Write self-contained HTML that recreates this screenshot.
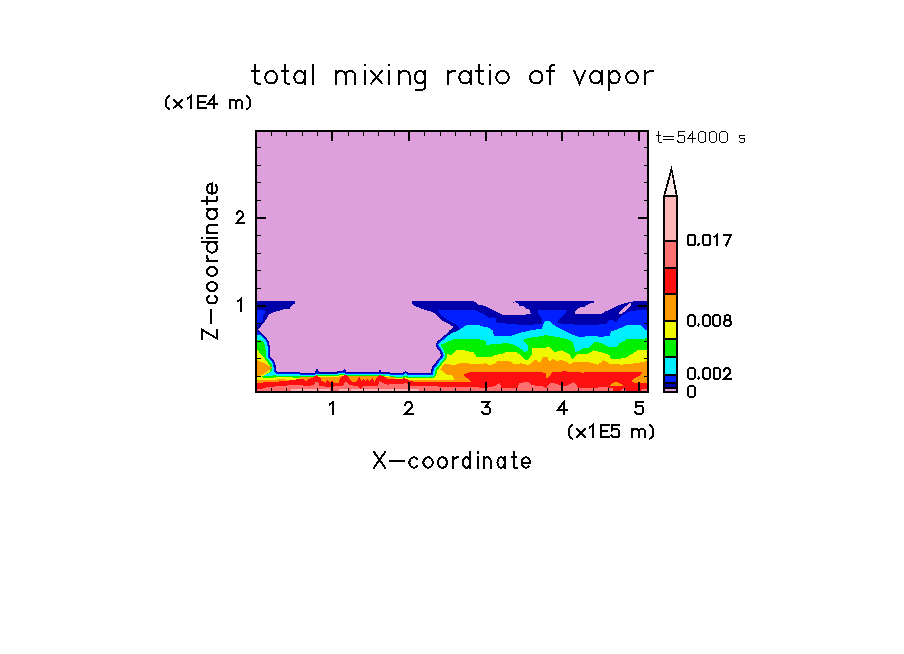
<!DOCTYPE html>
<html><head><meta charset="utf-8"><style>
html,body{margin:0;padding:0;background:#fff;font-family:"Liberation Sans",sans-serif;}
svg{display:block;}
</style></head><body>
<svg width="904" height="654" viewBox="0 0 904 654">
<rect width="904" height="654" fill="#fff"/>
<rect x="257" y="132" width="390" height="259" fill="#DDA0DD"/>
<g shape-rendering="crispEdges">
<path fill="#0000AA" d="M647.0 391.0 L647.0 301.0 L633.6 301.0 L632.1 301.8 L625.2 303.1 L618.5 305.4 L610.9 309.1 L604.8 311.8 L601.7 313.7 L574.9 313.7 L574.9 311.4 L577.2 309.1 L580.3 307.2 L584.1 307.2 L587.2 304.9 L591.0 303.0 L594.0 302.6 L594.0 301.0 L515.4 301.0 L515.4 302.3 L518.4 303.4 L519.2 306.1 L523.8 306.5 L526.1 308.4 L529.5 309.9 L529.9 313.0 L531.8 313.3 L526.1 314.5 L501.6 314.5 L497.8 312.2 L493.2 309.9 L489.4 308.0 L485.6 306.5 L481.8 304.9 L477.9 305.3 L477.2 303.4 L473.7 301.0 L412.2 301.0 L412.2 303.4 L414.5 305.7 L419.1 307.6 L424.5 309.9 L430.6 311.4 L434.4 313.3 L438.2 317.2 L441.3 320.2 L445.9 322.5 L450.5 324.8 L453.5 327.1 L448.9 330.9 L447.8 332.8 L443.1 336.6 L437.4 341.4 L435.5 344.2 L436.4 347.1 L439.3 350.9 L441.0 355.8 L437.8 359.6 L434.5 364.1 L432.1 366.7 L431.7 367.9 L430.8 371.8 L430.8 372.7 L408.0 372.7 L405.6 371.0 L403.0 372.7 L395.0 372.7 L381.7 372.2 L381.0 371.2 L379.8 369.5 L379.2 371.5 L378.0 371.6 L346.2 371.6 L345.0 368.8 L343.5 370.5 L342.8 371.0 L336.7 371.5 L336.7 372.2 L319.0 372.2 L317.1 368.2 L315.0 372.5 L300.0 372.5 L278.0 372.2 L276.0 370.3 L275.3 362.6 L269.9 355.8 L270.4 350.0 L270.1 347.5 L268.8 342.0 L266.9 338.3 L263.3 334.7 L259.6 331.5 L258.2 329.6 L261.4 325.5 L264.2 322.5 L266.5 318.7 L268.8 314.9 L272.6 312.6 L278.0 311.0 L283.3 309.5 L287.9 308.8 L289.8 308.8 L291.0 306.0 L293.2 304.0 L295.1 303.4 L295.1 301.0 L257.0 301.0 L257.0 391.0Z"/>
<path fill="#0020FF" d="M259.6 324.0 L262.6 321.0 L263.4 315.0 L265.3 313.5 L265.3 310.0 L257.0 310.0 L257.0 325.6Z"/>
<path fill="#0020FF" d="M638.2 310.3 L630.6 311.1 L625.2 313.3 L619.1 317.9 L616.1 322.1 L611.5 319.5 L609.2 319.5 L606.3 324.0 L588.0 325.2 L563.5 324.0 L557.4 322.5 L558.2 320.2 L560.5 317.9 L562.8 315.3 L566.2 313.0 L566.6 310.3 L537.5 310.3 L539.1 314.9 L542.1 318.7 L541.7 322.1 L541.7 323.7 L535.2 324.4 L525.3 325.2 L516.1 324.4 L515.0 323.7 L496.7 323.3 L495.5 318.0 L493.2 317.2 L489.4 318.3 L487.1 316.4 L483.3 313.7 L477.9 311.4 L474.1 309.9 L437.8 309.9 L437.8 310.3 L441.3 315.6 L445.9 318.7 L452.0 322.5 L456.6 324.8 L458.9 327.9 L458.4 331.5 L452.0 333.5 L445.0 337.0 L442.6 338.7 L438.4 342.3 L436.9 344.4 L437.6 346.5 L440.3 350.1 L440.4 350.2 L440.5 350.3 L440.5 350.5 L442.2 355.4 L442.3 355.5 L442.3 355.6 L442.3 355.7 L442.3 355.9 L442.3 356.0 L442.3 356.1 L442.2 356.2 L442.2 356.3 L442.1 356.4 L442.1 356.5 L442.0 356.6 L438.8 360.4 L435.5 364.9 L435.5 365.0 L433.2 367.4 L433.0 368.3 L432.1 371.9 L432.1 372.7 L432.1 372.8 L432.1 373.0 L432.0 373.1 L432.0 373.2 L432.0 373.2 L432.0 373.4 L432.0 373.5 L431.9 373.6 L431.8 373.7 L431.7 373.8 L431.6 373.9 L431.5 373.9 L431.3 374.0 L431.2 374.0 L431.1 374.1 L430.9 374.1 L430.8 374.1 L408.0 374.1 L407.9 374.1 L407.7 374.1 L407.6 374.0 L407.4 374.0 L407.3 373.9 L407.2 373.8 L405.6 372.7 L403.8 373.9 L403.6 373.9 L403.5 374.0 L403.4 374.0 L403.3 374.1 L403.1 374.1 L403.0 374.1 L395.0 374.1 L395.0 374.0 L395.0 374.0 L381.7 373.5 L381.5 373.5 L381.4 373.5 L381.3 373.4 L381.1 373.4 L381.0 373.3 L380.9 373.2 L380.8 373.1 L380.7 373.1 L380.6 372.9 L380.2 372.3 L380.2 372.3 L380.1 372.4 L380.0 372.5 L379.9 372.6 L379.8 372.7 L379.7 372.7 L379.6 372.7 L379.4 372.8 L379.3 372.8 L378.1 372.9 L378.0 372.9 L346.2 372.9 L346.1 372.9 L345.9 372.9 L345.8 372.8 L345.7 372.8 L345.6 372.7 L345.5 372.7 L345.4 372.6 L345.3 372.5 L345.2 372.4 L345.1 372.3 L345.1 372.2 L345.0 372.1 L344.6 371.2 L344.5 371.4 L344.4 371.5 L344.3 371.6 L343.6 372.1 L343.4 372.1 L343.3 372.2 L343.2 372.2 L343.0 372.3 L342.9 372.3 L337.9 372.7 L337.8 372.8 L337.8 372.9 L337.7 373.0 L337.6 373.1 L337.5 373.2 L337.4 373.3 L337.3 373.3 L337.2 373.4 L337.1 373.4 L337.0 373.5 L336.8 373.5 L336.7 373.5 L319.0 373.5 L318.9 373.5 L318.7 373.5 L318.6 373.4 L318.5 373.4 L318.4 373.3 L318.3 373.3 L318.1 373.2 L318.0 373.1 L318.0 373.0 L317.9 372.9 L317.8 372.8 L317.1 371.2 L316.2 373.1 L316.1 373.2 L316.0 373.3 L315.9 373.4 L315.8 373.5 L315.7 373.6 L315.6 373.6 L315.5 373.7 L315.4 373.7 L315.3 373.8 L315.1 373.8 L315.0 373.8 L300.0 373.8 L300.0 373.5 L300.0 373.5 L278.0 373.2 L277.9 373.2 L277.8 373.2 L277.7 373.2 L277.6 373.1 L277.5 373.1 L277.5 373.0 L277.4 373.0 L277.3 372.9 L276.0 371.7 L276.0 372.1 L275.1 371.2 L275.0 371.1 L274.9 371.0 L274.9 370.9 L274.8 370.8 L274.8 370.7 L274.7 370.6 L274.7 370.4 L274.0 363.1 L268.9 356.6 L268.8 356.5 L268.7 356.4 L268.7 356.3 L268.7 356.2 L268.6 356.1 L268.6 355.9 L268.6 355.8 L268.6 355.7 L269.1 350.0 L268.8 347.7 L267.6 342.5 L265.8 339.1 L262.4 335.7 L258.7 332.5 L258.6 332.4 L258.6 332.3 L258.5 332.2 L257.0 331.9 L257.0 391.0 L647.0 391.0 L647.0 310.0Z"/>
<path fill="#00EEFF" d="M645.9 330.2 L640.5 325.2 L626.8 325.2 L622.9 327.1 L615.3 330.2 L611.6 330.9 L609.3 336.3 L599.4 336.7 L589.5 335.5 L580.3 337.4 L572.6 334.8 L565.0 331.0 L559.7 328.6 L552.8 324.4 L549.8 321.4 L545.2 321.0 L543.6 323.3 L542.1 328.6 L531.4 330.2 L521.5 332.5 L514.6 334.8 L510.0 336.3 L494.0 335.5 L492.5 330.2 L487.9 327.1 L481.8 326.3 L478.7 325.2 L467.2 325.2 L464.2 326.3 L460.0 329.4 L453.5 332.5 L449.7 334.4 L449.7 334.4 L449.5 334.6 L449.4 334.7 L444.7 338.5 L439.3 343.1 L438.2 344.6 L438.7 345.9 L441.3 349.4 L441.4 349.6 L441.6 349.8 L441.7 350.1 L443.4 355.0 L443.4 355.2 L443.5 355.4 L443.5 355.7 L443.5 355.9 L443.5 356.1 L443.4 356.4 L443.4 356.6 L443.3 356.8 L443.2 357.0 L443.1 357.2 L442.9 357.4 L439.8 361.1 L436.5 365.6 L436.3 365.8 L434.3 368.0 L434.1 368.6 L433.3 372.1 L433.3 372.7 L433.3 372.9 L433.3 373.2 L433.2 373.4 L433.1 373.7 L433.0 373.9 L432.9 374.1 L432.7 374.3 L432.6 374.5 L432.4 374.6 L432.2 374.8 L432.0 374.9 L432.0 374.2 L431.9 374.3 L431.7 374.4 L431.5 374.5 L431.4 374.5 L431.2 374.6 L431.0 374.6 L430.8 374.6 L408.0 374.6 L407.8 374.6 L407.6 374.6 L407.4 374.5 L407.2 374.4 L407.1 374.4 L406.9 374.3 L405.6 373.3 L404.0 374.3 L403.9 374.4 L403.7 374.5 L403.5 374.5 L403.4 374.6 L403.2 374.6 L403.0 374.6 L395.0 374.6 L395.0 374.7 L394.9 374.7 L381.6 374.2 L381.4 374.2 L381.2 374.1 L381.0 374.1 L380.8 374.0 L380.7 373.9 L380.5 373.8 L380.3 373.7 L380.2 373.5 L380.1 373.3 L380.0 373.3 L379.9 373.4 L379.8 373.4 L379.6 373.5 L379.4 373.5 L378.2 373.6 L378.0 373.6 L346.2 373.6 L346.0 373.6 L345.8 373.6 L345.6 373.5 L345.4 373.5 L345.3 373.4 L345.1 373.3 L344.9 373.2 L344.8 373.0 L344.7 372.9 L344.5 372.7 L344.4 372.6 L344.4 372.4 L344.3 372.4 L344.0 372.6 L343.8 372.7 L343.6 372.8 L343.4 372.9 L343.2 373.0 L343.0 373.0 L338.3 373.4 L338.2 373.5 L338.1 373.6 L338.0 373.7 L337.8 373.9 L337.6 374.0 L337.5 374.0 L337.3 374.1 L337.1 374.2 L336.9 374.2 L336.7 374.2 L319.0 374.2 L318.8 374.2 L318.6 374.2 L318.4 374.1 L318.2 374.0 L318.0 373.9 L317.8 373.8 L317.7 373.7 L317.5 373.6 L317.4 373.4 L317.3 373.2 L317.2 373.1 L317.1 372.8 L316.8 373.4 L316.7 373.6 L316.6 373.7 L316.5 373.9 L316.3 374.0 L316.1 374.1 L316.0 374.2 L315.8 374.3 L315.6 374.4 L315.4 374.5 L315.2 374.5 L315.0 374.5 L300.0 374.5 L300.0 374.5 L278.0 374.2 L277.8 374.2 L277.6 374.2 L277.4 374.1 L277.2 374.1 L277.1 374.0 L276.9 373.9 L276.8 373.8 L276.6 373.6 L276.0 373.1 L276.0 373.3 L274.5 371.9 L274.3 371.7 L274.2 371.6 L274.1 371.4 L274.0 371.2 L273.9 370.9 L273.8 370.7 L273.8 370.5 L273.2 363.5 L268.2 357.2 L268.1 357.0 L268.0 356.8 L267.9 356.6 L267.8 356.4 L267.7 356.2 L267.7 356.0 L267.7 355.8 L267.7 355.6 L268.2 350.0 L267.9 347.9 L266.7 342.8 L265.1 339.6 L261.8 336.3 L260.2 335.0 L257.0 334.5 L257.0 391.0 L647.0 391.0 L647.0 330.3Z"/>
<path fill="#00F000" d="M626.8 339.3 L624.2 340.8 L619.5 343.2 L617.1 347.2 L610.0 347.2 L606.0 345.6 L601.7 343.2 L598.0 342.4 L593.7 342.4 L588.2 347.9 L584.2 347.6 L580.2 350.3 L574.6 352.7 L574.6 347.9 L572.6 342.4 L569.9 340.0 L565.0 338.6 L559.7 337.4 L552.8 336.3 L545.2 335.1 L540.6 336.3 L529.1 337.8 L522.8 340.0 L528.4 345.6 L528.4 351.1 L524.4 351.9 L518.8 347.2 L511.6 344.0 L506.9 343.2 L495.0 344.0 L490.0 344.5 L485.6 345.0 L485.6 340.9 L477.9 339.0 L474.9 339.3 L462.6 338.6 L455.0 338.6 L449.7 340.9 L442.8 343.9 L440.4 344.6 L440.2 344.9 L440.3 345.1 L442.7 348.3 L443.0 348.7 L443.2 349.1 L443.4 349.5 L445.1 354.4 L445.2 354.8 L445.3 355.2 L445.3 355.6 L445.3 356.0 L445.3 356.4 L445.2 356.8 L445.1 357.2 L444.9 357.5 L444.7 357.9 L444.5 358.2 L444.3 358.6 L441.2 362.3 L438.0 366.6 L437.7 367.0 L435.9 368.9 L435.8 369.1 L435.1 372.3 L435.1 372.7 L435.1 373.1 L435.0 373.5 L434.9 373.9 L434.8 374.3 L434.6 374.7 L434.4 375.1 L434.1 375.4 L433.8 375.7 L433.5 376.0 L433.2 376.3 L432.8 376.5 L432.4 376.7 L432.0 376.8 L432.0 376.8 L432.0 376.3 L431.9 376.3 L431.5 376.4 L431.2 376.5 L430.8 376.5 L408.0 376.5 L407.6 376.5 L407.2 376.4 L406.8 376.3 L406.5 376.2 L406.1 376.0 L405.8 375.8 L405.5 375.6 L405.1 375.9 L404.8 376.1 L404.4 376.2 L404.1 376.3 L403.7 376.4 L403.4 376.5 L403.0 376.5 L395.0 376.5 L395.0 375.9 L394.9 375.9 L381.6 375.4 L381.3 375.4 L380.9 375.3 L380.6 375.2 L380.3 375.1 L380.0 374.9 L379.8 374.7 L379.7 374.7 L379.5 374.7 L378.3 374.8 L378.0 374.8 L346.2 374.8 L345.9 374.8 L345.6 374.7 L345.3 374.7 L345.0 374.6 L344.7 374.4 L344.4 374.3 L344.2 374.1 L344.0 374.0 L343.7 374.1 L343.4 374.1 L343.1 374.2 L338.9 374.5 L338.7 374.7 L338.5 374.9 L338.2 375.0 L337.9 375.2 L337.6 375.3 L337.3 375.3 L337.0 375.4 L336.7 375.4 L319.0 375.4 L318.7 375.4 L318.3 375.3 L318.0 375.2 L317.7 375.1 L317.4 375.0 L317.2 374.8 L317.1 374.9 L316.8 375.1 L316.6 375.3 L316.3 375.4 L316.0 375.6 L315.6 375.6 L315.3 375.7 L315.0 375.7 L300.0 375.7 L300.0 376.3 L299.9 376.3 L277.9 376.0 L277.6 376.0 L277.2 375.9 L276.9 375.8 L276.6 375.7 L276.2 375.6 L276.0 375.4 L276.0 375.5 L275.9 375.5 L275.6 375.3 L275.6 375.2 L268.0 376.1 L261.6 376.2 L264.0 375.5 L266.6 374.2 L269.0 373.2 L272.0 371.0 L272.1 370.7 L272.1 370.7 L271.5 364.1 L266.8 358.2 L266.6 357.9 L266.4 357.6 L266.3 357.3 L266.2 356.9 L266.1 356.6 L266.0 356.2 L266.0 355.8 L266.0 355.5 L266.3 352.4 L265.6 350.0 L264.9 344.3 L263.3 342.0 L260.5 340.2 L257.0 339.6 L257.0 391.0 L647.0 391.0 L647.0 338.4Z"/>
<path fill="#F0F800" d="M637.7 350.3 L631.4 354.3 L625.8 357.5 L617.9 359.1 L610.7 359.1 L609.9 355.1 L602.8 352.7 L598.0 351.5 L593.7 350.3 L588.2 353.5 L583.4 353.5 L577.8 353.9 L572.3 359.5 L569.9 354.7 L561.9 350.3 L554.8 351.9 L550.0 347.4 L532.4 347.9 L532.4 354.3 L526.8 360.7 L520.4 355.1 L515.7 351.5 L506.9 351.5 L503.0 353.5 L495.0 355.1 L491.7 356.7 L484.5 357.1 L476.6 356.7 L473.4 351.9 L468.6 351.5 L463.8 350.3 L455.9 350.3 L451.1 355.5 L446.4 353.1 L446.7 353.8 L446.8 354.4 L446.9 354.9 L447.0 355.5 L447.0 356.1 L446.9 356.6 L446.8 357.2 L446.7 357.7 L446.5 358.2 L446.2 358.7 L445.9 359.2 L445.6 359.7 L442.5 363.3 L439.3 367.6 L438.9 368.2 L437.4 369.8 L436.8 372.5 L436.8 372.7 L436.8 373.3 L436.7 373.9 L436.5 374.4 L436.3 375.0 L436.1 375.5 L435.8 376.0 L435.4 376.5 L435.0 376.9 L434.6 377.3 L434.1 377.7 L433.6 378.0 L433.1 378.2 L432.5 378.4 L432.0 378.6 L432.0 377.9 L431.8 377.9 L431.3 378.0 L430.8 378.0 L408.0 378.0 L407.5 378.0 L406.9 377.9 L406.4 377.8 L405.9 377.6 L405.5 377.4 L405.5 377.4 L405.0 377.6 L404.5 377.8 L404.0 377.9 L403.5 378.0 L403.0 378.0 L395.0 378.0 L395.0 376.7 L394.8 376.7 L381.5 376.2 L381.1 376.2 L380.7 376.1 L380.3 376.0 L380.0 375.8 L379.6 375.6 L379.4 375.5 L378.3 375.6 L378.0 375.6 L346.2 375.6 L345.8 375.6 L345.4 375.5 L345.1 375.4 L344.7 375.3 L344.3 375.1 L344.0 374.9 L343.9 374.8 L343.6 374.9 L343.1 375.0 L339.2 375.3 L338.9 375.5 L338.6 375.7 L338.2 375.9 L337.9 376.0 L337.5 376.1 L337.1 376.2 L336.7 376.2 L319.0 376.2 L318.6 376.2 L318.2 376.1 L317.8 376.0 L317.4 375.9 L317.3 375.8 L316.9 376.0 L316.6 376.2 L316.2 376.3 L315.8 376.4 L315.4 376.5 L315.0 376.5 L300.0 376.5 L300.0 377.6 L299.9 377.6 L277.9 377.3 L277.5 377.3 L277.0 377.2 L276.5 377.1 L276.1 376.9 L276.0 376.9 L276.0 377.7 L275.8 377.7 L275.3 377.4 L274.8 377.2 L274.6 377.0 L274.0 378.1 L264.0 378.1 L261.6 376.8 L263.0 376.0 L266.0 374.3 L270.0 371.5 L270.2 371.3 L270.1 370.8 L269.6 364.9 L265.3 359.5 L265.0 359.0 L264.7 358.5 L264.4 358.0 L264.4 357.8 L257.0 349.8 L257.0 391.0 L647.0 391.0 L647.0 350.0Z"/>
<path fill="#FF9900" d="M637.7 363.1 L621.8 364.6 L609.9 363.8 L603.6 360.3 L597.7 364.6 L586.6 361.5 L576.2 361.5 L569.9 363.8 L565.9 361.5 L560.3 359.5 L557.2 361.5 L553.2 359.1 L549.1 361.5 L547.5 357.1 L542.7 357.1 L540.3 363.0 L535.5 359.5 L528.4 365.4 L522.0 363.4 L513.3 363.8 L509.3 360.7 L497.4 361.5 L495.6 363.4 L489.3 365.4 L485.3 363.4 L478.2 364.2 L475.0 364.1 L468.6 363.5 L460.3 363.2 L453.9 365.4 L447.5 364.1 L444.3 364.1 L440.1 369.3 L446.2 374.4 L453.2 375.7 L453.9 380.2 L429.0 380.0 L428.9 379.5 L408.0 379.5 L407.3 379.5 L406.6 379.4 L405.9 379.2 L405.5 379.0 L404.9 379.2 L404.3 379.4 L403.7 379.5 L403.0 379.5 L395.0 379.5 L395.0 377.5 L394.8 377.5 L381.5 377.0 L381.0 377.0 L380.5 376.9 L380.1 376.7 L379.6 376.5 L379.2 376.3 L378.4 376.4 L378.0 376.4 L346.2 376.4 L345.7 376.4 L345.3 376.3 L344.8 376.2 L344.4 376.0 L344.0 375.8 L343.7 375.7 L343.7 375.7 L343.2 375.8 L339.5 376.1 L339.4 376.2 L339.0 376.4 L338.5 376.6 L338.1 376.8 L337.6 376.9 L337.2 377.0 L336.7 377.0 L319.0 377.0 L318.5 377.0 L318.0 376.9 L317.5 376.8 L317.3 376.7 L317.3 376.7 L316.9 376.9 L316.4 377.1 L316.0 377.2 L315.5 377.3 L315.0 377.3 L300.0 377.3 L300.0 379.7 L299.9 379.7 L277.9 379.4 L277.3 379.4 L277.0 380.2 L270.5 380.3 L257.0 380.4 L257.0 391.0 L647.0 391.0 L647.0 361.0Z"/>
<path fill="#FF9900" d="M257.2 376.1 L262.2 375.0 L267.7 371.1 L272.2 367.6 L264.0 363.0 L257.0 360.0 L257.0 376.1Z"/>
<path fill="#FF1010" d="M637.7 383.3 L632.2 382.1 L632.2 379.7 L640.9 375.0 L641.7 372.2 L597.7 371.8 L581.8 372.6 L565.9 371.4 L552.2 371.8 L549.8 375.8 L546.7 379.0 L545.9 372.6 L518.8 371.8 L500.0 371.8 L474.2 371.8 L467.8 372.6 L464.2 374.4 L464.2 375.7 L471.2 381.5 L465.0 382.3 L450.0 382.5 L432.0 382.4 L415.0 382.0 L410.0 381.0 L408.0 379.5 L404.2 378.3 L400.0 379.3 L387.8 379.3 L386.6 377.7 L382.9 375.8 L379.2 375.2 L376.8 377.7 L374.3 382.6 L372.5 377.7 L369.4 381.3 L367.6 378.9 L365.8 381.3 L363.3 378.9 L361.5 381.3 L359.7 376.4 L357.2 380.7 L354.2 382.6 L351.1 380.7 L347.4 375.8 L345.0 374.8 L339.7 378.3 L339.1 382.6 L334.2 382.6 L331.8 380.7 L329.3 382.6 L327.5 380.1 L325.7 382.6 L321.4 380.7 L320.2 377.7 L316.5 375.2 L312.2 377.7 L307.9 379.5 L306.1 381.3 L303.7 378.9 L300.0 378.9 L293.7 379.9 L286.0 381.0 L270.5 382.1 L257.0 382.8 L257.0 391.0 L647.0 391.0 L647.0 383.3Z"/>
<path fill="#FF9900" d="M625.0 386.4 L619.0 383.0 L616.0 381.3 L613.0 383.0 L609.0 386.4Z"/>
<path fill="#FF7070" d="M608.0 387.0 L593.7 387.7 L578.6 387.7 L577.0 386.1 L573.8 382.1 L565.9 386.1 L560.3 385.3 L553.0 382.9 L549.1 383.7 L545.9 388.5 L542.7 386.1 L532.4 385.3 L528.4 382.1 L518.8 382.9 L518.1 387.7 L501.4 387.7 L499.8 382.9 L495.0 386.0 L487.7 387.7 L450.0 386.9 L427.9 386.2 L409.0 385.6 L407.1 383.1 L395.5 384.5 L390.8 383.5 L387.8 385.0 L381.7 382.6 L379.2 380.7 L378.0 386.2 L363.3 386.2 L360.3 388.7 L357.2 386.2 L350.0 385.0 L348.3 383.8 L345.8 381.3 L342.8 386.2 L336.7 386.2 L330.6 386.8 L319.6 386.2 L318.3 382.6 L315.9 381.3 L314.1 385.0 L306.1 386.2 L300.0 385.0 L291.0 385.2 L277.1 386.3 L266.0 387.4 L262.2 388.8 L257.0 388.8 L257.0 391.0 L608.9 391.0Z"/>
<path fill="#FFB6B8" d="M317.0 389.2 L291.0 389.2 L291.0 391.0 L317.0 391.0Z"/>
<path fill="#FFB6B8" d="M330.0 389.2 L319.0 389.2 L319.0 391.0 L330.0 391.0Z"/>
<path fill="#FFB6B8" d="M347.5 388.6 L338.5 388.6 L338.5 391.0 L347.5 391.0Z"/>
<path fill="#FFB6B8" d="M409.0 388.6 L350.5 388.6 L350.5 391.0 L409.0 391.0Z"/>
<path fill="#FFB6B8" d="M419.0 389.3 L410.0 389.3 L410.0 391.0 L419.0 391.0Z"/>
<path fill="#DDA0DD" d="M619.6 314.2 L621.6 314.2 L631.0 305.6 L631.0 303.6 L629.6 302.8 L628.6 303.6 L619.0 312.6Z"/>
<path fill="#0000AA" d="M512.8 301.6 L512.8 303.1 L514.3 303.1 L514.3 301.6Z"/>
<path fill="#FF7070" d="M612.7 388.2 L609.3 388.2 L609.3 391.0 L612.7 391.0Z"/>
<path fill="#FF7070" d="M623.5 388.4 L620.0 391.0 L626.6 391.0Z"/>
<path fill="#FF7070" d="M646.7 389.2 L641.0 389.6 L641.0 391.0 L646.7 391.0Z"/>
</g>
<g fill="#000" shape-rendering="crispEdges">
<rect x="255" y="130" width="394" height="2"/>
<rect x="255" y="391" width="394" height="2"/>
<rect x="255" y="130" width="2" height="263"/>
<rect x="647" y="130" width="2" height="263"/>
<rect x="271" y="388" width="1" height="3"/>
<rect x="271" y="132" width="1" height="4"/>
<rect x="286" y="388" width="1" height="3"/>
<rect x="286" y="132" width="1" height="4"/>
<rect x="302" y="388" width="1" height="3"/>
<rect x="302" y="132" width="1" height="4"/>
<rect x="317" y="388" width="1" height="3"/>
<rect x="317" y="132" width="1" height="4"/>
<rect x="348" y="388" width="1" height="3"/>
<rect x="348" y="132" width="1" height="4"/>
<rect x="363" y="388" width="1" height="3"/>
<rect x="363" y="132" width="1" height="4"/>
<rect x="378" y="388" width="1" height="3"/>
<rect x="378" y="132" width="1" height="4"/>
<rect x="394" y="388" width="1" height="3"/>
<rect x="394" y="132" width="1" height="4"/>
<rect x="424" y="388" width="1" height="3"/>
<rect x="424" y="132" width="1" height="4"/>
<rect x="440" y="388" width="1" height="3"/>
<rect x="440" y="132" width="1" height="4"/>
<rect x="455" y="388" width="1" height="3"/>
<rect x="455" y="132" width="1" height="4"/>
<rect x="470" y="388" width="1" height="3"/>
<rect x="470" y="132" width="1" height="4"/>
<rect x="501" y="388" width="1" height="3"/>
<rect x="501" y="132" width="1" height="4"/>
<rect x="516" y="388" width="1" height="3"/>
<rect x="516" y="132" width="1" height="4"/>
<rect x="532" y="388" width="1" height="3"/>
<rect x="532" y="132" width="1" height="4"/>
<rect x="547" y="388" width="1" height="3"/>
<rect x="547" y="132" width="1" height="4"/>
<rect x="578" y="388" width="1" height="3"/>
<rect x="578" y="132" width="1" height="4"/>
<rect x="593" y="388" width="1" height="3"/>
<rect x="593" y="132" width="1" height="4"/>
<rect x="608" y="388" width="1" height="3"/>
<rect x="608" y="132" width="1" height="4"/>
<rect x="624" y="388" width="1" height="3"/>
<rect x="624" y="132" width="1" height="4"/>
<rect x="331" y="382" width="2" height="9"/>
<rect x="331" y="132" width="2" height="9"/>
<rect x="408" y="382" width="2" height="9"/>
<rect x="408" y="132" width="2" height="9"/>
<rect x="485" y="382" width="2" height="9"/>
<rect x="485" y="132" width="2" height="9"/>
<rect x="561" y="382" width="2" height="9"/>
<rect x="561" y="132" width="2" height="9"/>
<rect x="638" y="382" width="2" height="9"/>
<rect x="638" y="132" width="2" height="9"/>
<rect x="257" y="376" width="4" height="1"/>
<rect x="644" y="376" width="3" height="1"/>
<rect x="257" y="358" width="4" height="1"/>
<rect x="644" y="358" width="3" height="1"/>
<rect x="257" y="341" width="4" height="1"/>
<rect x="644" y="341" width="3" height="1"/>
<rect x="257" y="323" width="4" height="1"/>
<rect x="644" y="323" width="3" height="1"/>
<rect x="257" y="305" width="9" height="2"/>
<rect x="638" y="305" width="9" height="2"/>
<rect x="257" y="288" width="4" height="1"/>
<rect x="644" y="288" width="3" height="1"/>
<rect x="257" y="270" width="4" height="1"/>
<rect x="644" y="270" width="3" height="1"/>
<rect x="257" y="253" width="4" height="1"/>
<rect x="644" y="253" width="3" height="1"/>
<rect x="257" y="235" width="4" height="1"/>
<rect x="644" y="235" width="3" height="1"/>
<rect x="257" y="217" width="9" height="2"/>
<rect x="638" y="217" width="9" height="2"/>
<rect x="257" y="200" width="4" height="1"/>
<rect x="644" y="200" width="3" height="1"/>
<rect x="257" y="182" width="4" height="1"/>
<rect x="644" y="182" width="3" height="1"/>
<rect x="257" y="165" width="4" height="1"/>
<rect x="644" y="165" width="3" height="1"/>
<rect x="257" y="147" width="4" height="1"/>
<rect x="644" y="147" width="3" height="1"/>
</g>
<g shape-rendering="crispEdges">
<rect x="663" y="195" width="15" height="198" fill="#000"/>
<rect x="665" y="197" width="11" height="43" fill="#FFB6B8"/>
<rect x="665" y="242" width="11" height="25" fill="#FF7070"/>
<rect x="665" y="269" width="11" height="24" fill="#FF1010"/>
<rect x="665" y="295" width="11" height="25" fill="#FF9900"/>
<rect x="665" y="322" width="11" height="16" fill="#F0F800"/>
<rect x="665" y="340" width="11" height="16" fill="#00F000"/>
<rect x="665" y="358" width="11" height="16" fill="#00EEFF"/>
<rect x="665" y="376" width="11" height="6" fill="#0020FF"/>
<rect x="665" y="384" width="11" height="3" fill="#0000AA"/>
<rect x="665" y="389" width="11" height="2" fill="#DDA0DD"/>
<path d="M671.5 165.5 L663 197 L678 197 Z" fill="#000"/>
<path d="M671.5 173 L665.3 195 L675.7 195 Z" fill="#FFEAEA"/>
</g>
<g fill="none" stroke="#000" shape-rendering="crispEdges">
<path d="M254.93 64.75 L254.93 81.00 L254.93 81.00 L254.99 81.56 L255.19 82.08 L255.50 82.56 L255.92 82.95 L256.42 83.25 L256.98 83.44 L257.56 83.50 L259.80 83.50M251.90 71.00 L259.27 71.00M277.00 77.25 L276.89 78.47 L276.55 79.64 L276.01 80.72 L275.29 81.67 L274.40 82.45 L273.39 83.02 L272.29 83.38 L271.15 83.50 L270.01 83.38 L268.91 83.02 L267.90 82.45 L267.01 81.67 L266.29 80.72 L265.75 79.64 L265.41 78.47 L265.30 77.25 L265.41 76.03 L265.75 74.86 L266.29 73.78 L267.01 72.83 L267.90 72.05 L268.91 71.48 L270.01 71.12 L271.15 71.00 L272.29 71.12 L273.39 71.48 L274.40 72.05 L275.29 72.83 L276.01 73.78 L276.55 74.86 L276.89 76.03ZM284.63 64.75 L284.63 81.00 L284.63 81.00 L284.69 81.56 L284.85 82.08 L285.11 82.56 L285.46 82.95 L285.88 83.25 L286.34 83.44 L286.83 83.50 L288.70 83.50M282.10 71.00 L288.26 71.00M304.86 77.25 L304.76 78.47 L304.46 79.64 L303.98 80.72 L303.33 81.67 L302.54 82.45 L301.63 83.02 L300.65 83.38 L299.63 83.50 L298.61 83.38 L297.63 83.02 L296.72 82.45 L295.93 81.67 L295.28 80.72 L294.80 79.64 L294.50 78.47 L294.40 77.25 L294.50 76.03 L294.80 74.86 L295.28 73.78 L295.93 72.83 L296.72 72.05 L297.63 71.48 L298.61 71.12 L299.63 71.00 L300.65 71.12 L301.63 71.48 L302.54 72.05 L303.33 72.83 L303.98 73.78 L304.46 74.86 L304.76 76.03ZM305.10 71.00 L305.10 83.50M313.00 64.75 L313.00 83.50M335.90 71.00 L335.90 83.50M335.90 76.62 L335.90 75.38 L336.01 74.47 L336.32 73.60 L336.82 72.80 L337.50 72.12 L338.31 71.59 L339.23 71.21 L340.22 71.02 L341.23 71.02 L342.22 71.21 L343.14 71.59 L343.95 72.12 L344.63 72.80 L345.13 73.60 L345.44 74.47 L345.55 75.38 L345.55 83.50M345.55 76.62 L345.55 75.38 L345.66 74.47 L345.97 73.60 L346.47 72.80 L347.15 72.12 L347.96 71.59 L348.88 71.21 L349.87 71.02 L350.88 71.02 L351.87 71.21 L352.79 71.59 L353.60 72.12 L354.28 72.80 L354.78 73.60 L355.09 74.47 L355.20 75.38 L355.20 83.50M365.40 71.00 L365.40 83.50M365.40 64.50 L365.40 65.25M371.20 71.00 L382.00 83.50M382.00 71.00 L371.20 83.50M389.40 71.00 L389.40 83.50M389.40 64.50 L389.40 65.25M399.30 71.00 L399.30 83.50M399.30 76.62 L399.30 75.38 L399.41 74.47 L399.74 73.60 L400.27 72.80 L400.99 72.12 L401.85 71.59 L402.82 71.21 L403.87 71.02 L404.93 71.02 L405.98 71.21 L406.95 71.59 L407.81 72.12 L408.53 72.80 L409.06 73.60 L409.39 74.47 L409.50 75.38 L409.50 83.50M425.07 77.25 L424.97 78.47 L424.69 79.64 L424.22 80.72 L423.60 81.67 L422.83 82.45 L421.96 83.02 L421.02 83.38 L420.04 83.50 L419.05 83.38 L418.11 83.02 L417.24 82.45 L416.47 81.67 L415.85 80.72 L415.38 79.64 L415.10 78.47 L415.00 77.25 L415.10 76.03 L415.38 74.86 L415.85 73.78 L416.47 72.83 L417.24 72.05 L418.11 71.48 L419.05 71.12 L420.04 71.00 L421.02 71.12 L421.96 71.48 L422.83 72.05 L423.60 72.83 L424.22 73.78 L424.69 74.86 L424.97 76.03ZM425.30 71.00 L425.30 86.62 L425.30 86.62 L425.21 87.32 L424.96 87.98 L424.55 88.57 L424.01 89.07 L423.36 89.44 L422.63 89.67 L421.87 89.75 L416.14 89.75M447.50 71.00 L447.50 83.50M447.50 76.62 L447.50 75.38 L447.69 74.40 L448.23 73.48 L449.11 72.65 L450.29 71.95 L451.69 71.43 L453.25 71.11 L454.90 71.00M470.64 77.25 L470.54 78.47 L470.22 79.64 L469.70 80.72 L469.00 81.67 L468.15 82.45 L467.17 83.02 L466.12 83.38 L465.02 83.50 L463.93 83.38 L462.87 83.02 L461.90 82.45 L461.05 81.67 L460.35 80.72 L459.83 79.64 L459.51 78.47 L459.40 77.25 L459.51 76.03 L459.83 74.86 L460.35 73.78 L461.05 72.83 L461.90 72.05 L462.87 71.48 L463.93 71.12 L465.02 71.00 L466.12 71.12 L467.17 71.48 L468.15 72.05 L469.00 72.83 L469.70 73.78 L470.22 74.86 L470.54 76.03ZM470.90 71.00 L470.90 83.50M479.05 64.75 L479.05 81.00 L479.05 81.00 L479.10 81.56 L479.27 82.08 L479.55 82.56 L479.91 82.95 L480.35 83.25 L480.83 83.44 L481.35 83.50 L483.30 83.50M476.40 71.00 L482.84 71.00M489.80 71.00 L489.80 83.50M489.80 64.50 L489.80 65.25M508.70 77.25 L508.58 78.47 L508.23 79.64 L507.66 80.72 L506.88 81.67 L505.94 82.45 L504.87 83.02 L503.71 83.38 L502.50 83.50 L501.29 83.38 L500.13 83.02 L499.06 82.45 L498.12 81.67 L497.34 80.72 L496.77 79.64 L496.42 78.47 L496.30 77.25 L496.42 76.03 L496.77 74.86 L497.34 73.78 L498.12 72.83 L499.06 72.05 L500.13 71.48 L501.29 71.12 L502.50 71.00 L503.71 71.12 L504.87 71.48 L505.94 72.05 L506.88 72.83 L507.66 73.78 L508.23 74.86 L508.58 76.03ZM542.40 77.25 L542.28 78.47 L541.93 79.64 L541.36 80.72 L540.58 81.67 L539.64 82.45 L538.57 83.02 L537.41 83.38 L536.20 83.50 L534.99 83.38 L533.83 83.02 L532.76 82.45 L531.82 81.67 L531.04 80.72 L530.47 79.64 L530.12 78.47 L530.00 77.25 L530.12 76.03 L530.47 74.86 L531.04 73.78 L531.82 72.83 L532.76 72.05 L533.83 71.48 L534.99 71.12 L536.20 71.00 L537.41 71.12 L538.57 71.48 L539.64 72.05 L540.58 72.83 L541.36 73.78 L541.93 74.86 L542.28 76.03ZM549.90 83.50 L549.90 68.50 L549.90 68.50 L549.99 67.67 L550.27 66.87 L550.72 66.16 L551.31 65.57 L552.02 65.12 L552.82 64.84 L553.65 64.75 L554.40 64.75M547.40 71.00 L554.40 71.00M574.30 71.00 L579.55 83.50 L584.80 71.00M601.44 77.25 L601.34 78.47 L601.02 79.64 L600.50 80.72 L599.80 81.67 L598.95 82.45 L597.97 83.02 L596.92 83.38 L595.82 83.50 L594.73 83.38 L593.67 83.02 L592.70 82.45 L591.85 81.67 L591.15 80.72 L590.63 79.64 L590.31 78.47 L590.20 77.25 L590.31 76.03 L590.63 74.86 L591.15 73.78 L591.85 72.83 L592.70 72.05 L593.67 71.48 L594.73 71.12 L595.82 71.00 L596.92 71.12 L597.97 71.48 L598.95 72.05 L599.80 72.83 L600.50 73.78 L601.02 74.86 L601.34 76.03ZM601.70 71.00 L601.70 83.50M608.90 71.00 L608.90 89.75M619.60 77.25 L619.50 78.47 L619.20 79.64 L618.72 80.72 L618.07 81.67 L617.28 82.45 L616.37 83.02 L615.39 83.38 L614.37 83.50 L613.35 83.38 L612.37 83.02 L611.46 82.45 L610.67 81.67 L610.02 80.72 L609.54 79.64 L609.24 78.47 L609.14 77.25 L609.24 76.03 L609.54 74.86 L610.02 73.78 L610.67 72.83 L611.46 72.05 L612.37 71.48 L613.35 71.12 L614.37 71.00 L615.39 71.12 L616.37 71.48 L617.28 72.05 L618.07 72.83 L618.72 73.78 L619.20 74.86 L619.50 76.03ZM637.80 77.25 L637.69 78.47 L637.36 79.64 L636.82 80.72 L636.10 81.67 L635.22 82.45 L634.22 83.02 L633.13 83.38 L632.00 83.50 L630.87 83.38 L629.78 83.02 L628.78 82.45 L627.90 81.67 L627.18 80.72 L626.64 79.64 L626.31 78.47 L626.20 77.25 L626.31 76.03 L626.64 74.86 L627.18 73.78 L627.90 72.83 L628.78 72.05 L629.78 71.48 L630.87 71.12 L632.00 71.00 L633.13 71.12 L634.22 71.48 L635.22 72.05 L636.10 72.83 L636.82 73.78 L637.36 74.86 L637.69 76.03ZM645.00 71.00 L645.00 83.50M645.00 76.62 L645.00 75.38 L645.20 74.40 L645.78 73.48 L646.72 72.65 L647.97 71.95 L649.47 71.43 L651.14 71.11 L652.90 71.00" stroke-width="2" stroke-linecap="square" stroke-linejoin="miter"/>
<path d="M374.00 452.10 L385.10 467.70M385.10 452.10 L374.00 467.70M390.00 461.15 L404.00 461.15M417.35 459.16 L416.66 458.39 L415.85 457.81 L414.95 457.44 L414.00 457.30 L413.05 457.39 L412.14 457.71 L411.30 458.25 L410.59 458.98 L410.02 459.87 L409.63 460.87 L409.43 461.95 L409.43 463.05 L409.63 464.13 L410.02 465.13 L410.59 466.02 L411.30 466.75 L412.14 467.29 L413.05 467.61 L414.00 467.70 L414.95 467.56 L415.85 467.19 L416.66 466.61 L417.35 465.84M432.80 462.50 L432.71 463.51 L432.44 464.49 L432.01 465.39 L431.42 466.18 L430.71 466.82 L429.90 467.30 L429.02 467.60 L428.10 467.70 L427.18 467.60 L426.30 467.30 L425.49 466.82 L424.78 466.18 L424.19 465.39 L423.76 464.49 L423.49 463.51 L423.40 462.50 L423.49 461.49 L423.76 460.51 L424.19 459.61 L424.78 458.82 L425.49 458.18 L426.30 457.70 L427.18 457.40 L428.10 457.30 L429.02 457.40 L429.90 457.70 L430.71 458.18 L431.42 458.82 L432.01 459.61 L432.44 460.51 L432.71 461.49ZM446.90 462.50 L446.81 463.51 L446.56 464.49 L446.15 465.39 L445.60 466.18 L444.92 466.82 L444.15 467.30 L443.32 467.60 L442.45 467.70 L441.58 467.60 L440.75 467.30 L439.98 466.82 L439.30 466.18 L438.75 465.39 L438.34 464.49 L438.09 463.51 L438.00 462.50 L438.09 461.49 L438.34 460.51 L438.75 459.61 L439.30 458.82 L439.98 458.18 L440.75 457.70 L441.58 457.40 L442.45 457.30 L443.32 457.40 L444.15 457.70 L444.92 458.18 L445.60 458.82 L446.15 459.61 L446.56 460.51 L446.81 461.49ZM452.90 457.30 L452.90 467.70M452.90 461.98 L452.90 460.94 L453.03 460.13 L453.42 459.36 L454.06 458.67 L454.90 458.09 L455.90 457.66 L457.02 457.39 L458.20 457.30M470.13 462.50 L470.06 463.51 L469.85 464.49 L469.52 465.39 L469.06 466.18 L468.50 466.82 L467.87 467.30 L467.18 467.60 L466.47 467.70 L465.75 467.60 L465.06 467.30 L464.43 466.82 L463.87 466.18 L463.42 465.39 L463.08 464.49 L462.87 463.51 L462.80 462.50 L462.87 461.49 L463.08 460.51 L463.42 459.61 L463.87 458.82 L464.43 458.18 L465.06 457.70 L465.75 457.40 L466.47 457.30 L467.18 457.40 L467.87 457.70 L468.50 458.18 L469.06 458.82 L469.52 459.61 L469.85 460.51 L470.06 461.49ZM470.30 452.10 L470.30 467.70M477.60 457.30 L477.60 467.70M477.60 451.89 L477.60 452.52M483.80 457.30 L483.80 467.70M483.80 461.98 L483.80 460.94 L483.88 460.18 L484.10 459.46 L484.46 458.80 L484.94 458.23 L485.52 457.79 L486.18 457.48 L486.89 457.32 L487.61 457.32 L488.32 457.48 L488.98 457.79 L489.56 458.23 L490.04 458.80 L490.40 459.46 L490.62 460.18 L490.70 460.94 L490.70 467.70M504.74 462.50 L504.67 463.51 L504.46 464.49 L504.13 465.39 L503.68 466.18 L503.13 466.82 L502.50 467.30 L501.82 467.60 L501.12 467.70 L500.41 467.60 L499.73 467.30 L499.11 466.82 L498.56 466.18 L498.11 465.39 L497.78 464.49 L497.57 463.51 L497.50 462.50 L497.57 461.49 L497.78 460.51 L498.11 459.61 L498.56 458.82 L499.11 458.18 L499.73 457.70 L500.41 457.40 L501.12 457.30 L501.82 457.40 L502.50 457.70 L503.13 458.18 L503.68 458.82 L504.13 459.61 L504.46 460.51 L504.67 461.49ZM504.90 457.30 L504.90 467.70M513.54 452.10 L513.54 465.62 L513.54 465.62 L513.58 466.08 L513.70 466.52 L513.89 466.92 L514.14 467.25 L514.45 467.49 L514.78 467.65 L515.14 467.70 L516.50 467.70M511.70 457.30 L516.18 457.30M521.60 462.50 L530.10 462.50 L530.10 462.50 L530.00 461.38 L529.71 460.32 L529.24 459.36 L528.60 458.54 L527.85 457.91 L526.99 457.49 L526.09 457.31 L525.17 457.37 L524.29 457.67 L523.47 458.19 L522.77 458.91 L522.21 459.81 L521.83 460.82 L521.63 461.92 L521.62 463.04 L521.82 464.14 L522.20 465.16 L522.75 466.06 L523.45 466.79 L524.26 467.32 L525.14 467.63 L526.06 467.69 L526.96 467.52 L527.82 467.11 L528.58 466.48" stroke-width="2" stroke-linecap="square" stroke-linejoin="miter"/>
<path d="M169.00 96.00 L166.49 98.71 L166.00 101.03 L166.00 104.89 L166.49 107.21 L169.00 109.15M174.00 99.87 L182.00 107.60M182.00 99.87 L174.00 107.60M187.80 98.32 L191.10 96.00 L191.10 107.60M206.00 96.00 L198.30 96.00 L198.30 107.60 L206.00 107.60M198.30 101.80 L204.84 101.80M214.12 107.60 L214.12 96.00 L208.20 103.73 L217.00 103.73M230.00 99.87 L230.00 107.60M230.00 103.35 L230.00 102.58 L230.07 102.01 L230.26 101.48 L230.58 100.99 L231.01 100.56 L231.53 100.23 L232.11 100.00 L232.73 99.88 L233.37 99.88 L233.99 100.00 L234.57 100.23 L235.09 100.56 L235.52 100.99 L235.84 101.48 L236.03 102.01 L236.10 102.58 L236.10 107.60M236.10 103.35 L236.10 102.58 L236.17 102.01 L236.36 101.48 L236.68 100.99 L237.11 100.56 L237.62 100.23 L238.21 100.00 L238.83 99.88 L239.47 99.88 L240.09 100.00 L240.67 100.23 L241.19 100.56 L241.62 100.99 L241.94 101.48 L242.13 102.01 L242.20 102.58 L242.20 107.60M247.20 96.00 L249.46 98.71 L249.90 101.03 L249.90 104.89 L249.46 107.21 L247.20 109.15" stroke-width="2" stroke-linecap="square" stroke-linejoin="miter"/>
<path d="M572.10 424.89 L569.59 427.72 L569.10 430.14 L569.10 434.18 L569.59 436.60 L572.10 438.61M576.80 428.93 L585.10 437.00M585.10 428.93 L576.80 437.00M589.80 427.32 L593.10 424.89 L593.10 437.00M608.60 424.89 L600.90 424.89 L600.90 437.00 L608.60 437.00M600.90 430.95 L607.45 430.95M618.52 424.89 L612.06 424.89 L612.06 430.06 L613.58 428.93 L616.47 428.93 L616.47 428.93 L617.01 428.99 L617.52 429.17 L617.98 429.46 L618.37 429.84 L618.66 430.30 L618.84 430.81 L618.90 431.35 L618.90 435.06 L618.90 435.06 L618.85 435.49 L618.72 435.90 L618.50 436.27 L618.21 436.58 L617.87 436.81 L617.48 436.95 L617.08 437.00 L612.97 437.00 L611.30 435.22M632.00 428.93 L632.00 437.00M632.00 432.56 L632.00 431.75 L632.07 431.17 L632.29 430.61 L632.63 430.09 L633.09 429.66 L633.65 429.31 L634.28 429.07 L634.96 428.95 L635.64 428.95 L636.32 429.07 L636.95 429.31 L637.51 429.66 L637.97 430.09 L638.31 430.61 L638.53 431.17 L638.60 431.75 L638.60 437.00M638.60 432.56 L638.60 431.75 L638.67 431.17 L638.89 430.61 L639.23 430.09 L639.69 429.66 L640.25 429.31 L640.88 429.07 L641.56 428.95 L642.24 428.95 L642.92 429.07 L643.55 429.31 L644.11 429.66 L644.57 430.09 L644.91 430.61 L645.13 431.17 L645.20 431.75 L645.20 437.00M650.00 424.89 L652.51 427.72 L653.00 430.14 L653.00 434.18 L652.51 436.60 L650.00 438.61" stroke-width="2" stroke-linecap="square" stroke-linejoin="miter"/>
<path d="M329.80 404.20 L333.40 401.80 L333.40 413.80M405.42 405.00 L405.42 404.76 L405.49 404.14 L405.69 403.56 L406.02 403.02 L406.45 402.56 L406.98 402.20 L407.58 401.94 L408.21 401.82 L408.87 401.82 L409.50 401.94 L410.10 402.20 L410.63 402.56 L411.06 403.02 L411.39 403.56 L411.59 404.14 L411.66 404.76 L411.66 407.00 L405.10 413.80 L412.90 413.80M482.24 401.80 L489.44 401.80 L485.52 407.08 L487.60 407.08 L487.60 407.08 L488.13 407.14 L488.64 407.30 L489.10 407.57 L489.48 407.92 L489.76 408.35 L489.94 408.82 L490.00 409.32 L490.00 411.72 L490.00 411.72 L489.95 412.18 L489.79 412.62 L489.55 413.02 L489.22 413.35 L488.82 413.59 L488.38 413.75 L487.92 413.80 L483.76 413.80 L482.00 412.04M564.05 413.80 L564.05 401.80 L558.00 409.80 L567.00 409.80M642.51 401.80 L635.88 401.80 L635.88 406.92 L637.44 405.80 L640.40 405.80 L640.40 405.80 L640.96 405.86 L641.49 406.04 L641.96 406.32 L642.36 406.70 L642.65 407.16 L642.84 407.67 L642.90 408.20 L642.90 411.88 L642.90 411.88 L642.85 412.31 L642.71 412.71 L642.49 413.08 L642.20 413.38 L641.84 413.61 L641.44 413.75 L641.03 413.80 L636.82 413.80 L635.10 412.04" stroke-width="2" stroke-linecap="square" stroke-linejoin="miter"/>
<path d="M237.90 301.32 L241.00 298.95 L241.00 310.80" stroke-width="2" stroke-linecap="square" stroke-linejoin="miter"/>
<path d="M236.62 214.40 L236.62 214.16 L236.68 213.54 L236.88 212.96 L237.20 212.42 L237.63 211.96 L238.16 211.60 L238.74 211.34 L239.37 211.22 L240.02 211.22 L240.65 211.34 L241.24 211.60 L241.76 211.96 L242.19 212.42 L242.51 212.96 L242.71 213.54 L242.78 214.16 L242.78 216.40 L236.30 223.20 L244.00 223.20" stroke-width="2" stroke-linecap="square" stroke-linejoin="miter"/>
<path d="M692.54 234.50 L693.52 234.68 L694.35 235.17 L694.91 235.92 L695.10 236.80 L695.10 243.00 L694.91 243.88 L694.35 244.63 L693.52 245.12 L692.54 245.30 L690.46 245.30 L689.48 245.12 L688.65 244.63 L688.09 243.88 L687.90 243.00 L687.90 236.80 L688.09 235.92 L688.65 235.17 L689.48 234.68 L690.46 234.50ZM698.70 243.86 L698.30 244.94M707.58 234.50 L708.51 234.68 L709.29 235.17 L709.82 235.92 L710.00 236.80 L710.00 243.00 L709.82 243.88 L709.29 244.63 L708.51 245.12 L707.58 245.30 L705.62 245.30 L704.69 245.12 L703.91 244.63 L703.38 243.88 L703.20 243.00 L703.20 236.80 L703.38 235.92 L703.91 235.17 L704.69 234.68 L705.62 234.50ZM714.80 236.66 L717.20 234.50 L717.20 245.30M724.10 234.50 L731.10 234.50 L726.20 245.30" stroke-width="2" stroke-linecap="square" stroke-linejoin="miter"/>
<path d="M692.54 315.20 L693.52 315.38 L694.35 315.87 L694.91 316.62 L695.10 317.50 L695.10 323.70 L694.91 324.58 L694.35 325.33 L693.52 325.82 L692.54 326.00 L690.46 326.00 L689.48 325.82 L688.65 325.33 L688.09 324.58 L687.90 323.70 L687.90 317.50 L688.09 316.62 L688.65 315.87 L689.48 315.38 L690.46 315.20ZM698.62 324.56 L698.26 325.64M707.55 315.20 L708.49 315.38 L709.28 315.87 L709.81 316.62 L710.00 317.50 L710.00 323.70 L709.81 324.58 L709.28 325.33 L708.49 325.82 L707.55 326.00 L705.55 326.00 L704.61 325.82 L703.82 325.33 L703.29 324.58 L703.10 323.70 L703.10 317.50 L703.29 316.62 L703.82 315.87 L704.61 315.38 L705.55 315.20ZM717.65 315.20 L718.59 315.38 L719.38 315.87 L719.91 316.62 L720.10 317.50 L720.10 323.70 L719.91 324.58 L719.38 325.33 L718.59 325.82 L717.65 326.00 L715.65 326.00 L714.71 325.82 L713.92 325.33 L713.39 324.58 L713.20 323.70 L713.20 317.50 L713.39 316.62 L713.92 315.87 L714.71 315.38 L715.65 315.20ZM728.05 315.20 L728.84 315.35 L729.52 315.79 L729.97 316.44 L730.13 317.22 L730.13 318.22 L729.97 319.00 L729.52 319.65 L728.84 320.09 L728.05 320.24 L726.85 320.24 L726.06 320.09 L725.38 319.65 L724.93 319.00 L724.77 318.22 L724.77 317.22 L724.93 316.44 L725.38 315.79 L726.06 315.35 L726.85 315.20ZM728.42 320.24 L729.33 320.42 L730.10 320.91 L730.62 321.66 L730.80 322.54 L730.80 323.70 L730.62 324.58 L730.10 325.33 L729.33 325.82 L728.42 326.00 L726.48 326.00 L725.57 325.82 L724.80 325.33 L724.28 324.58 L724.10 323.70 L724.10 322.54 L724.28 321.66 L724.80 320.91 L725.57 320.42 L726.48 320.24Z" stroke-width="2" stroke-linecap="square" stroke-linejoin="miter"/>
<path d="M692.60 368.10 L693.60 368.28 L694.44 368.77 L695.00 369.52 L695.20 370.40 L695.20 376.60 L695.00 377.48 L694.44 378.23 L693.60 378.72 L692.60 378.90 L690.50 378.90 L689.50 378.72 L688.66 378.23 L688.10 377.48 L687.90 376.60 L687.90 370.40 L688.10 369.52 L688.66 368.77 L689.50 368.28 L690.50 368.10ZM698.82 377.46 L698.46 378.54M707.62 368.10 L708.53 368.28 L709.30 368.77 L709.82 369.52 L710.00 370.40 L710.00 376.60 L709.82 377.48 L709.30 378.23 L708.53 378.72 L707.62 378.90 L705.68 378.90 L704.77 378.72 L704.00 378.23 L703.48 377.48 L703.30 376.60 L703.30 370.40 L703.48 369.52 L704.00 368.77 L704.77 368.28 L705.68 368.10ZM717.62 368.10 L718.50 368.28 L719.23 368.77 L719.73 369.52 L719.90 370.40 L719.90 376.60 L719.73 377.48 L719.23 378.23 L718.50 378.72 L717.62 378.90 L715.78 378.90 L714.90 378.72 L714.17 378.23 L713.67 377.48 L713.50 376.60 L713.50 370.40 L713.67 369.52 L714.17 368.77 L714.90 368.28 L715.78 368.10ZM724.20 370.98 L724.20 370.76 L724.26 370.21 L724.45 369.68 L724.76 369.20 L725.17 368.78 L725.66 368.46 L726.22 368.23 L726.81 368.11 L727.42 368.11 L728.02 368.23 L728.58 368.46 L729.07 368.78 L729.48 369.20 L729.79 369.68 L729.98 370.21 L730.04 370.76 L730.04 372.78 L723.90 378.90 L731.20 378.90" stroke-width="2" stroke-linecap="square" stroke-linejoin="miter"/>
<path d="M692.60 386.10 L693.60 386.28 L694.44 386.77 L695.00 387.52 L695.20 388.40 L695.20 394.60 L695.00 395.48 L694.44 396.23 L693.60 396.72 L692.60 396.90 L690.50 396.90 L689.50 396.72 L688.66 396.23 L688.10 395.48 L687.90 394.60 L687.90 388.40 L688.10 387.52 L688.66 386.77 L689.50 386.28 L690.50 386.10Z" stroke-width="2" stroke-linecap="square" stroke-linejoin="miter"/>
<path d="M658.33 131.70 L658.33 140.89 L658.33 140.89 L658.36 141.20 L658.47 141.50 L658.65 141.77 L658.89 141.99 L659.17 142.16 L659.49 142.26 L659.83 142.30 L661.10 142.30M656.60 135.23 L660.80 135.23M663.20 136.64 L673.30 136.64M663.20 139.61 L673.30 139.61M684.24 131.70 L678.12 131.70 L678.12 136.22 L679.56 135.23 L682.30 135.23 L682.30 135.23 L682.81 135.28 L683.30 135.44 L683.73 135.69 L684.10 136.03 L684.37 136.43 L684.54 136.88 L684.60 137.35 L684.60 140.60 L684.60 140.60 L684.56 140.98 L684.43 141.34 L684.22 141.66 L683.95 141.93 L683.62 142.13 L683.26 142.26 L682.87 142.30 L678.98 142.30 L677.40 140.74M692.81 142.30 L692.81 131.70 L687.50 138.77 L695.40 138.77M703.11 131.70 L704.06 131.87 L704.87 132.36 L705.41 133.09 L705.60 133.96 L705.60 140.04 L705.41 140.90 L704.87 141.64 L704.06 142.13 L703.11 142.30 L701.09 142.30 L700.14 142.13 L699.33 141.64 L698.79 140.90 L698.60 140.04 L698.60 133.96 L698.79 133.09 L699.33 132.36 L700.14 131.87 L701.09 131.70ZM713.95 131.70 L714.89 131.87 L715.68 132.36 L716.21 133.09 L716.40 133.96 L716.40 140.04 L716.21 140.90 L715.68 141.64 L714.89 142.13 L713.95 142.30 L711.95 142.30 L711.01 142.13 L710.22 141.64 L709.69 140.90 L709.50 140.04 L709.50 133.96 L709.69 133.09 L710.22 132.36 L711.01 131.87 L711.95 131.70ZM724.53 131.70 L725.59 131.87 L726.49 132.36 L727.09 133.09 L727.30 133.96 L727.30 140.04 L727.09 140.90 L726.49 141.64 L725.59 142.13 L724.53 142.30 L722.27 142.30 L721.21 142.13 L720.31 141.64 L719.71 140.90 L719.50 140.04 L719.50 133.96 L719.71 133.09 L720.31 132.36 L721.21 131.87 L722.27 131.70ZM744.50 135.94 L744.14 135.23 L740.21 135.23 L740.21 135.23 L740.06 135.26 L739.90 135.34 L739.77 135.46 L739.66 135.63 L739.57 135.83 L739.52 136.05 L739.50 136.29 L739.50 137.35 L740.21 138.41 L743.79 138.41 L743.79 138.41 L743.94 138.44 L744.10 138.52 L744.23 138.64 L744.34 138.81 L744.43 139.01 L744.48 139.24 L744.50 139.47 L744.50 141.24 L744.50 141.24 L744.47 141.48 L744.39 141.70 L744.27 141.90 L744.10 142.07 L743.89 142.19 L743.67 142.27 L743.43 142.30 L740.57 142.30 L739.50 141.45" stroke-width="1" stroke-linecap="square" stroke-linejoin="miter"/>
<g transform="translate(218.1,339.6) rotate(-90)"><path d="M1.00 -16.30 L10.00 -16.30 L1.00 -1.00 L10.00 -1.00M16.80 -7.43 L29.30 -7.43M43.65 -9.38 L43.00 -10.13 L42.23 -10.70 L41.37 -11.06 L40.47 -11.20 L39.57 -11.11 L38.70 -10.79 L37.91 -10.27 L37.23 -9.55 L36.69 -8.68 L36.32 -7.70 L36.12 -6.64 L36.12 -5.56 L36.32 -4.50 L36.69 -3.52 L37.23 -2.65 L37.91 -1.93 L38.70 -1.41 L39.57 -1.09 L40.47 -1.00 L41.37 -1.14 L42.23 -1.50 L43.00 -2.07 L43.65 -2.82M57.50 -6.10 L57.41 -5.11 L57.16 -4.15 L56.74 -3.27 L56.18 -2.49 L55.50 -1.86 L54.72 -1.39 L53.88 -1.10 L53.00 -1.00 L52.12 -1.10 L51.28 -1.39 L50.50 -1.86 L49.82 -2.49 L49.26 -3.27 L48.84 -4.15 L48.59 -5.11 L48.50 -6.10 L48.59 -7.09 L48.84 -8.05 L49.26 -8.93 L49.82 -9.71 L50.50 -10.34 L51.28 -10.81 L52.12 -11.10 L53.00 -11.20 L53.88 -11.10 L54.72 -10.81 L55.50 -10.34 L56.18 -9.71 L56.74 -8.93 L57.16 -8.05 L57.41 -7.09ZM72.60 -6.10 L72.51 -5.11 L72.26 -4.15 L71.84 -3.27 L71.28 -2.49 L70.60 -1.86 L69.82 -1.39 L68.98 -1.10 L68.10 -1.00 L67.22 -1.10 L66.38 -1.39 L65.60 -1.86 L64.92 -2.49 L64.36 -3.27 L63.94 -4.15 L63.69 -5.11 L63.60 -6.10 L63.69 -7.09 L63.94 -8.05 L64.36 -8.93 L64.92 -9.71 L65.60 -10.34 L66.38 -10.81 L67.22 -11.10 L68.10 -11.20 L68.98 -11.10 L69.82 -10.81 L70.60 -10.34 L71.28 -9.71 L71.84 -8.93 L72.26 -8.05 L72.51 -7.09ZM78.70 -11.20 L78.70 -1.00M78.70 -6.61 L78.70 -7.63 L78.82 -8.42 L79.19 -9.18 L79.77 -9.86 L80.54 -10.42 L81.47 -10.85 L82.51 -11.11 L83.60 -11.20M97.56 -6.10 L97.46 -5.11 L97.16 -4.15 L96.67 -3.27 L96.01 -2.49 L95.21 -1.86 L94.30 -1.39 L93.31 -1.10 L92.28 -1.00 L91.25 -1.10 L90.26 -1.39 L89.35 -1.86 L88.55 -2.49 L87.89 -3.27 L87.40 -4.15 L87.10 -5.11 L87.00 -6.10 L87.10 -7.09 L87.40 -8.05 L87.89 -8.93 L88.55 -9.71 L89.35 -10.34 L90.26 -10.81 L91.25 -11.10 L92.28 -11.20 L93.31 -11.10 L94.30 -10.81 L95.21 -10.34 L96.01 -9.71 L96.67 -8.93 L97.16 -8.05 L97.46 -7.09ZM97.80 -16.30 L97.80 -1.00M102.00 -11.20 L102.00 -1.00M102.00 -16.50 L102.00 -15.89M106.20 -11.20 L106.20 -1.00M106.20 -6.61 L106.20 -7.63 L106.30 -8.37 L106.58 -9.08 L107.05 -9.73 L107.67 -10.28 L108.42 -10.72 L109.27 -11.03 L110.18 -11.18 L111.12 -11.18 L112.03 -11.03 L112.88 -10.72 L113.63 -10.28 L114.25 -9.73 L114.72 -9.08 L115.00 -8.37 L115.10 -7.63 L115.10 -1.00M130.27 -6.10 L130.18 -5.11 L129.89 -4.15 L129.43 -3.27 L128.81 -2.49 L128.06 -1.86 L127.19 -1.39 L126.26 -1.10 L125.29 -1.00 L124.31 -1.10 L123.38 -1.39 L122.52 -1.86 L121.76 -2.49 L121.14 -3.27 L120.68 -4.15 L120.40 -5.11 L120.30 -6.10 L120.40 -7.09 L120.68 -8.05 L121.14 -8.93 L121.76 -9.71 L122.52 -10.34 L123.38 -10.81 L124.31 -11.10 L125.29 -11.20 L126.26 -11.10 L127.19 -10.81 L128.06 -10.34 L128.81 -9.71 L129.43 -8.93 L129.89 -8.05 L130.18 -7.09ZM130.50 -11.20 L130.50 -1.00M138.34 -16.30 L138.34 -3.04 L138.34 -3.04 L138.40 -2.59 L138.57 -2.15 L138.85 -1.77 L139.21 -1.45 L139.65 -1.20 L140.13 -1.05 L140.64 -1.00 L142.60 -1.00M135.70 -11.20 L142.14 -11.20M145.90 -6.10 L156.10 -6.10 L156.10 -6.10 L155.98 -7.20 L155.63 -8.24 L155.06 -9.18 L154.31 -9.98 L153.39 -10.60 L152.37 -11.01 L151.28 -11.19 L150.18 -11.13 L149.12 -10.84 L148.15 -10.33 L147.31 -9.62 L146.64 -8.74 L146.17 -7.74 L145.93 -6.67 L145.93 -5.57 L146.16 -4.49 L146.62 -3.49 L147.28 -2.61 L148.12 -1.89 L149.09 -1.37 L150.15 -1.07 L151.25 -1.01 L152.34 -1.18 L153.36 -1.58 L154.28 -2.19" stroke-width="2" stroke-linecap="square" stroke-linejoin="miter"/></g>

</g>
</svg>
</body></html>
